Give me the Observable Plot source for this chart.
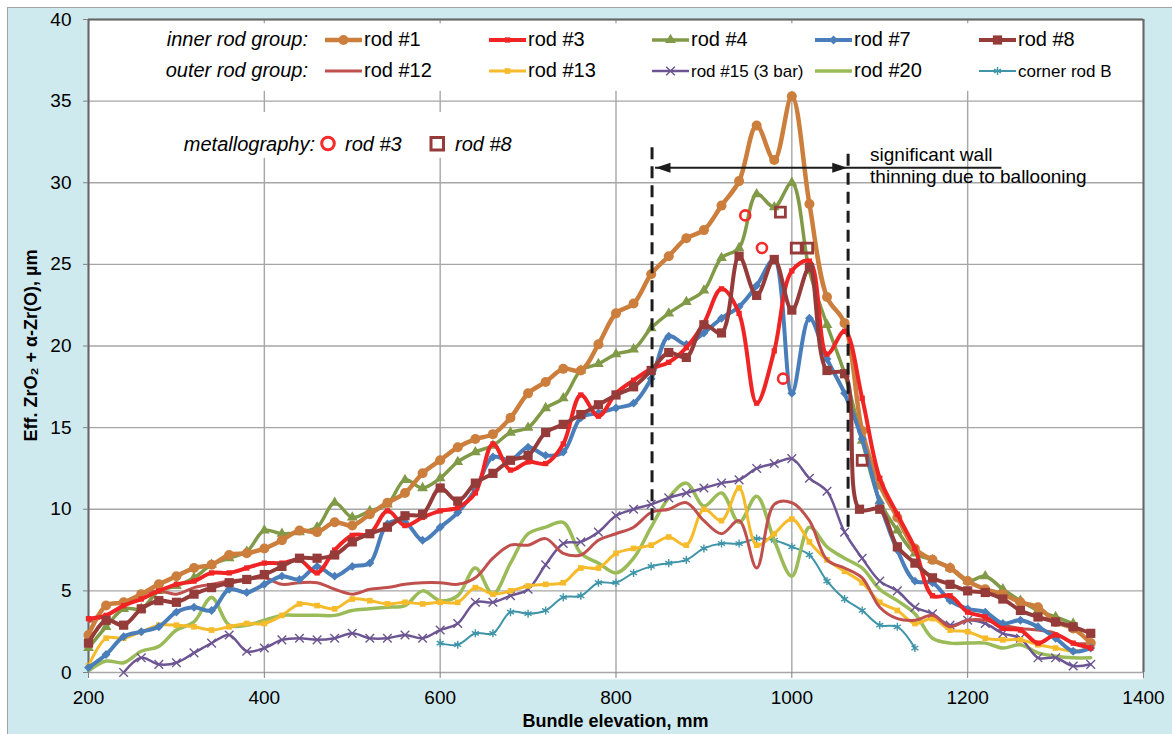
<!DOCTYPE html>
<html><head><meta charset="utf-8">
<script src="https://cdn.jsdelivr.net/npm/d3@7"></script>
<script src="https://cdn.jsdelivr.net/npm/@observablehq/plot@0.6"></script>
<style>
body{margin:0;background:#fff;font-family:"Liberation Sans",Arial,sans-serif;}
#wrap{position:relative;width:1172px;height:734px;overflow:hidden;}
#bg{position:absolute;left:7px;top:7px;right:0;bottom:0;background:#cfeaee;border-left:1.5px solid #a3a3a3;border-top:1.5px solid #a3a3a3;}
#chart{position:absolute;left:0;top:0;}
#overlay{position:absolute;left:0;top:0;pointer-events:none;}
</style></head><body>
<div id="wrap"><div id="bg"></div><div id="chart"></div><svg id="overlay" width="1172" height="734"></svg></div>
<script>
// ---------- data ----------
const elevation = [200,220,240,260,280,300,320,340,360,380,
  400,420,440,460,480,500,520,540,560,580,
  600,620,640,660,680,700,720,740,760,780,
  800,820,840,860,880,900,920,940,960,980,
  1000,1020,1040,1060,1080,1100,1120,1140,1160,1180,
  1200,1220,1240,1260,1280,1300,1320,1340];
const rod8Elevation = [200,220,240,260,280,300,320,340,360,380,
  400,420,440,460,480,500,520,540,560,580,
  600,620,640,660,680,700,720,740,760,780,
  800,820,840,860,880,900,920,940,960,980,
  1000,1020,1040,1060,1077,1100,1120,1140,1160,1180,
  1200,1220,1240,1260,1280,1300,1320,1340];

const rod1 = [2.3,4.1,4.3,4.8,5.4,5.9,6.4,6.6,7.2,7.3,
  7.6,8.1,8.7,8.6,9.2,9.0,9.7,10.4,11.0,12.2,
  13.0,13.8,14.3,14.6,15.6,17.1,17.8,18.6,18.5,20.1,
  22.0,22.6,24.4,25.5,26.6,27.1,28.6,30.1,33.5,31.4,
  35.3,28.7,23.0,21.4,14.8,11.5,9.5,7.6,6.9,6.4,
  5.6,5.1,4.8,4.3,4.0,3.1,2.7,1.8];
const rod3 = [3.3,3.5,4.1,4.5,5.0,5.4,5.6,6.1,6.1,6.4,
  6.7,6.7,6.9,6.1,7.5,8.4,8.5,9.9,9.0,9.5,
  9.9,10.1,11.0,14.0,12.4,12.9,12.8,14.0,17.0,15.7,
  17.1,17.9,18.6,19.0,19.9,21.4,23.5,22.0,16.5,19.7,
  24.6,25.2,19.5,20.9,16.8,11.9,9.7,7.6,4.7,4.7,
  3.7,3.4,2.7,2.6,1.8,2.3,1.8,1.5];
const rod4 = [1.5,2.8,3.9,3.9,5.0,5.3,5.8,6.6,7.0,7.4,
  8.7,8.5,8.6,8.9,10.4,9.5,9.9,10.3,11.8,11.3,
  11.9,12.9,13.5,13.9,14.7,15.0,16.2,16.8,18.5,18.9,
  19.5,19.8,21.1,22.0,22.7,23.4,25.4,26.0,29.3,28.5,
  30.0,24.6,21.3,18.3,14.2,10.5,8.7,7.3,6.9,6.4,
  5.6,5.9,5.1,4.4,3.8,3.4,3.0,null];
const rod7 = [0.3,1.1,2.2,2.5,2.8,3.7,4.0,3.8,5.1,4.9,
  5.4,5.9,5.7,6.5,5.9,6.5,6.7,9.1,9.2,8.1,
  8.9,9.8,11.2,13.2,13.0,13.8,13.3,13.5,15.6,15.9,
  16.2,16.5,18.0,20.6,20.1,20.8,21.7,22.4,23.7,25.3,
  17.1,21.7,19.2,17.1,14.3,10.4,7.5,5.6,5.5,4.4,
  3.9,3.7,3.0,3.2,2.8,2.1,1.3,1.5];
const rod8 = [1.8,3.2,2.9,3.9,4.4,4.3,4.8,5.2,5.5,5.7,
  6.0,6.5,7.0,7.0,7.2,8.0,8.5,8.9,9.6,9.7,
  11.3,10.5,11.6,12.2,13.0,13.3,14.7,15.2,15.8,16.4,
  17.0,17.5,18.5,19.6,19.3,21.3,20.8,25.5,23.1,25.3,
  22.2,24.8,18.5,18.3,10.0,10.0,7.7,6.7,5.8,5.4,
  5.0,4.9,4.5,3.8,3.4,3.1,2.8,2.4];
const rod12 = [3.1,3.5,4.1,4.8,5.0,4.8,5.2,5.4,5.6,5.7,
  5.8,5.4,5.5,5.5,5.1,4.8,5.1,5.2,5.4,5.5,
  5.5,5.4,5.8,7.0,7.8,7.8,8.2,7.3,7.2,8.1,
  8.5,8.9,9.8,10.0,10.4,9.3,8.5,9.3,6.4,10.3,
  10.4,9.3,6.9,6.4,5.8,4.0,3.3,3.2,3.5,2.8,
  3.2,3.2,2.9,2.7,2.6,2.4,1.8,1.8];
const rod13 = [0.4,2.1,2.1,2.5,2.9,2.9,2.8,2.6,2.8,3.0,
  3.0,3.5,4.2,4.1,3.9,4.5,4.4,4.2,4.3,4.2,
  4.3,4.3,5.2,4.8,5.0,5.3,5.4,5.5,6.4,6.4,
  7.3,7.6,7.8,8.3,7.8,10.0,9.3,11.3,7.8,8.5,
  9.4,8.0,6.9,6.2,5.5,4.3,3.8,3.0,3.3,2.6,
  2.5,2.1,2.0,2.0,1.7,1.5,1.3,1.5];
const rod15 = [null,null,0.0,0.9,0.5,0.6,1.2,1.8,2.3,1.3,
  1.5,2.0,2.1,2.0,2.1,2.4,2.1,2.1,2.3,2.1,
  2.6,3.0,4.3,4.3,4.7,5.1,6.6,7.9,8.0,8.6,
  9.6,10.0,10.3,10.7,11.0,11.3,11.6,11.8,12.5,12.8,
  13.1,11.9,11.1,8.6,7.0,5.6,5.0,4.0,3.6,2.9,
  3.2,3.0,2.4,2.1,0.9,0.9,0.4,0.5];
const rod20 = [0.1,0.7,0.6,1.3,1.6,2.6,3.1,4.6,2.9,2.9,
  3.2,3.5,3.5,3.5,3.5,3.8,3.9,4.0,4.1,5.0,
  4.4,4.7,6.4,4.8,6.7,8.5,8.9,9.2,7.3,6.7,
  6.1,7.0,8.9,10.7,11.6,10.2,11.0,9.2,10.8,8.1,
  5.9,8.9,7.7,7.0,6.4,5.1,4.4,3.6,2.1,1.8,
  1.8,1.8,1.5,1.7,1.2,1.0,0.9,0.9];
const cornerRodB = [null,null,null,null,null,null,null,null,null,null,
  null,null,null,null,null,null,null,null,null,null,
  1.8,1.7,2.4,2.4,3.7,3.6,3.8,4.6,4.7,5.5,
  5.5,6.1,6.5,6.7,6.9,7.6,7.9,7.9,8.2,8.1,
  7.7,7.2,5.6,4.5,3.8,2.9,2.8,1.5,null,null,
  null,null,null,null,null,null,null,null];

// metallography measurements
const metRod3Elevation = [947,966,990];
const metRod3 = [28.0,26.0,18.0];
const metRod8Elevation = [987,1005,1018,1080];
const metRod8 = [28.2,26.0,26.0,13.0];

// annotation: ballooning zone
const zoneEdges = [841,1064];
const zoneTop = [32.3,31.8];
const zoneBottom = [9.3,8.9];
const arrowLevel = 30.92;

const xTicks = [200,400,600,800,1000,1200,1400];
const yTicks = [0,5,10,15,20,25,30,35,40];

const xTitle = "Bundle elevation, mm";
const yTitle = "Eff. ZrO₂ + α-Zr(O), µm";

// ---------- styles ----------
const S = {
  rod1:{label:"rod #1", x:elevation, y:rod1, color:"#cc7e3d", width:4.5, symbol:"circle", r:5},
  rod3:{label:"rod #3", x:elevation, y:rod3, color:"#f02424", width:4, symbol:"square", r:3},
  rod4:{label:"rod #4", x:elevation, y:rod4, color:"#809a48", width:3.5, symbol:"triangle", r:4},
  rod7:{label:"rod #7", x:elevation, y:rod7, color:"#4a7ebb", width:4, symbol:"diamond2", r:4},
  rod8:{label:"rod #8", x:rod8Elevation, y:rod8, color:"#953b39", width:4, symbol:"square", r:5.2},
  rod12:{label:"rod #12", x:elevation, y:rod12, color:"#c0504d", width:3, symbol:null},
  rod13:{label:"rod #13", x:elevation, y:rod13, color:"#f6bb2b", width:3, symbol:"square", r:3.2},
  rod15:{label:"rod #15 (3 bar)", x:elevation, y:rod15, color:"#6c5592", width:2.5, symbol:"times", r:4, hollow:true, small:true},
  rod20:{label:"rod #20", x:elevation, y:rod20, color:"#9bbb59", width:3.5, symbol:null},
  cornerB:{label:"corner rod B", x:elevation, y:cornerRodB, color:"#3e94a8", width:2, symbol:"asterisk", r:3.8, hollow:true, small:true}
};
const drawOrder = ["cornerB","rod20","rod15","rod13","rod12","rod4","rod1","rod7","rod3","rod8"];
const legendRows = [
  {title:"inner rod group:", keys:["rod1","rod3","rod4","rod7","rod8"], y:40, base:46},
  {title:"outer rod group:", keys:["rod12","rod13","rod15","rod20","cornerB"], y:71, base:77}
];
const legendCols = [325,489,652,815,979];

// ---------- plot ----------
const gridColor = "#a6a6a6";
const marks = [
  Plot.rect([{x1:200,x2:1400,y1:-0.45,y2:40}], {x1:"x1",x2:"x2",y1:"y1",y2:"y2",fill:"white"}),
  Plot.ruleX(xTicks, {stroke:gridColor, strokeWidth:1.4}),
  Plot.ruleY(yTicks, {stroke:gridColor, strokeWidth:1.4}),
  // white boxes behind legend texts
  Plot.rect([{x1:271,x2:1396,y1:35.6,y2:39.74},{x1:282,x2:697,y1:31.5,y2:34.3}],
    {x1:"x1",x2:"x2",y1:"y1",y2:"y2",fill:"white"}),
  Plot.ruleY([40], {stroke:"#666", strokeWidth:2}),
  Plot.ruleX([200,1400], {y1:0, y2:40, stroke:"#666", strokeWidth:2}),
  Plot.axisX({ticks:xTicks, tickFormat:d=>String(d), tickSize:6, tickPadding:12, fontSize:19, stroke:"#808080", fill:"black", label:null}),
  Plot.axisY({ticks:yTicks, tickFormat:d=>String(d), tickSize:5, tickPadding:12, fontSize:19, stroke:"#808080", fill:"black", label:null})
];
for (const key of drawOrder) {
  const st = S[key];
  const rows = st.y.map((v,i)=>({x:st.x[i], y:v})).filter(d=>d.y!=null);
  marks.push(Plot.line(rows, {x:"x", y:"y", stroke:st.color, strokeWidth:st.width, curve:"catmull-rom", clip:true, strokeLinejoin:"round"}));
  if (st.symbol) {
    marks.push(Plot.dot(rows, Object.assign({x:"x", y:"y", symbol:st.symbol, r:st.r},
      st.hollow ? {stroke:st.color, fill:"none", strokeWidth:1.4} : {fill:st.color, stroke:"none"})));
  }
}
// metallography
marks.push(Plot.dot(metRod3Elevation.map((x,i)=>({x, y:metRod3[i]})), {x:"x", y:"y", symbol:"circle", r:5, fill:"none", stroke:"#f52a2a", strokeWidth:2.6}));
marks.push(Plot.dot(metRod8Elevation.map((x,i)=>({x, y:metRod8[i]})), {x:"x", y:"y", symbol:"square", r:5.6, fill:"none", stroke:"#953b39", strokeWidth:2.8}));
// ballooning zone annotation
marks.push(Plot.ruleX(zoneEdges.map((x,i)=>({x, y1:zoneBottom[i], y2:zoneTop[i]})), {x:"x", y1:"y1", y2:"y2", stroke:"#1c1c1c", strokeWidth:3, strokeDasharray:"12,7"}));
marks.push(Plot.ruleY([arrowLevel], {x1:845, x2:1239, stroke:"#1c1c1c", strokeWidth:1.8}));
const headL = 17, headH = 0.3;
marks.push(Plot.line([{x:845,y:arrowLevel},{x:845+headL,y:arrowLevel+headH},{x:845+headL,y:arrowLevel-headH},{x:845,y:arrowLevel}], {x:"x", y:"y", fill:"#1c1c1c", stroke:"none"}));
marks.push(Plot.line([{x:1063,y:arrowLevel},{x:1063-headL,y:arrowLevel+headH},{x:1063-headL,y:arrowLevel-headH},{x:1063,y:arrowLevel}], {x:"x", y:"y", fill:"#1c1c1c", stroke:"none"}));
marks.push(Plot.text([{x:1089,y:31.35,t:"significant wall"},{x:1089,y:30.0,t:"thinning due to ballooning"}],
  {x:"x", y:"y", text:"t", textAnchor:"start", lineAnchor:"bottom", fontSize:19, fill:"black"}));

const chart = Plot.plot({
  width:1172, height:734,
  marginLeft:88, marginRight:29, marginTop:19, marginBottom:62,
  style:{background:"transparent", fontFamily:"'Liberation Sans', Arial, sans-serif", overflow:"visible"},
  x:{domain:[200,1400], label:null},
  y:{domain:[0,40], label:null},
  marks
});
document.getElementById("chart").appendChild(chart);

// ---------- overlay: legend and titles ----------
const ov = d3.select("#overlay").style("font-family","'Liberation Sans', Arial, sans-serif");
const symMap = {circle:d3.symbolCircle, square:d3.symbolSquare, triangle:d3.symbolTriangle, diamond2:d3.symbolDiamond2, times:d3.symbolTimes, asterisk:d3.symbolAsterisk};
for (const row of legendRows) {
  ov.append("text").attr("x",308).attr("y",row.base).attr("text-anchor","end")
    .attr("font-size",20).attr("font-style","italic").text(row.title);
  row.keys.forEach((k,i)=>{
    const st = S[k], sx = legendCols[i];
    ov.append("line").attr("x1",sx).attr("x2",sx+37).attr("y1",row.y).attr("y2",row.y)
      .attr("stroke",st.color).attr("stroke-width",st.width);
    if (st.symbol) {
      const p = ov.append("path").attr("transform",`translate(${sx+18.5},${row.y})`)
        .attr("d", d3.symbol(symMap[st.symbol], Math.PI*st.r*st.r)());
      if (st.hollow) p.attr("fill","none").attr("stroke",st.color).attr("stroke-width",1.4);
      else p.attr("fill",st.color);
    }
    ov.append("text").attr("x",sx+39).attr("y",row.base).attr("font-size",st.small?17:20).text(st.label);
  });
}
ov.append("text").attr("x",315).attr("y",151).attr("text-anchor","end").attr("font-size",20).attr("font-style","italic").text("metallography:");
ov.append("circle").attr("cx",328).attr("cy",143.5).attr("r",6.3).attr("fill","none").attr("stroke","#f52a2a").attr("stroke-width",3);
ov.append("text").attr("x",345).attr("y",151).attr("font-size",20).attr("font-style","italic").text("rod #3");
ov.append("rect").attr("x",431).attr("y",137.5).attr("width",12.5).attr("height",12.5).attr("fill","none").attr("stroke","#953b39").attr("stroke-width",3);
ov.append("text").attr("x",455).attr("y",151).attr("font-size",20).attr("font-style","italic").text("rod #8");

ov.append("text").attr("x",615.5).attr("y",727).attr("text-anchor","middle").attr("font-size",18).attr("font-weight","bold").text(xTitle);
ov.append("text").attr("transform","translate(37,345.5) rotate(-90)").attr("text-anchor","middle").attr("font-size",18).attr("font-weight","bold").text(yTitle);
</script>
</body></html>
